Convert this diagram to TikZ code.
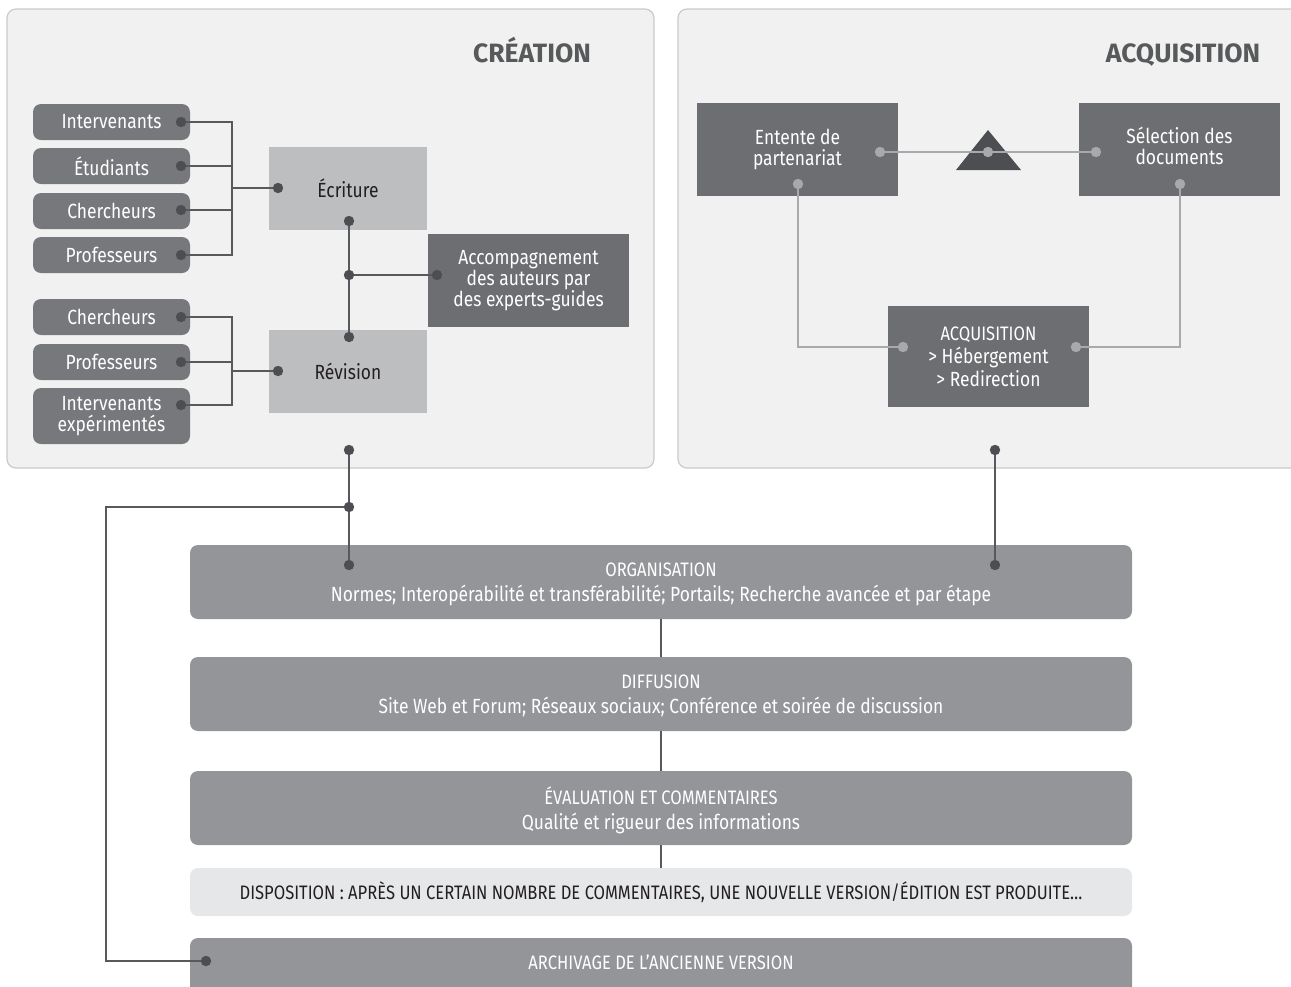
\documentclass[tikz,border=0pt]{standalone}
\usepackage{fontspec}
\setmainfont{Fira Sans}[FakeStretch=0.85]
\newfontfamily\titlefont{Fira Sans}
\newcommand\capsline[1]{{\fontsize{19.5}{23}\selectfont #1}}
\definecolor{panelfill}{HTML}{F0F1F0}
\definecolor{panelline}{HTML}{C9CACB}
\definecolor{pillc}{HTML}{77787B}
\definecolor{lightbox}{HTML}{BCBEC0}
\definecolor{darkbox}{HTML}{6D6E71}
\definecolor{barc}{HTML}{939598}
\definecolor{dispoc}{HTML}{E6E7E8}
\definecolor{dlinec}{HTML}{58595B}
\definecolor{ddotc}{HTML}{4D4E52}
\definecolor{llinec}{HTML}{A7A9AC}
\definecolor{titlec}{HTML}{58595B}
\definecolor{textdark}{HTML}{231F20}
\tikzset{
  panel/.style={fill=panelfill, draw=panelline, line width=1.2pt, rounded corners=9pt},
  pill/.style={fill=pillc, rounded corners=8pt, minimum width=157pt, minimum height=36pt, text=white, font=\fontsize{20.5}{21}\selectfont, align=center, inner sep=0pt},
  lbox/.style={fill=lightbox, minimum width=158pt, minimum height=83pt, text=textdark, font=\fontsize{20.5}{21}\selectfont, inner sep=0pt},
  dbox/.style={fill=darkbox, minimum width=201pt, minimum height=93pt, text=white, font=\fontsize{20.5}{21}\selectfont, align=center, inner sep=0pt},
  bar/.style={fill=barc, rounded corners=8pt, minimum width=942pt, minimum height=74pt, text=white, font=\fontsize{20.5}{25}\selectfont, align=center, inner sep=0pt},
  bartext/.style={text=white, font=\fontsize{20.5}{25}\selectfont, align=center, inner sep=0pt},
  title/.style={text=titlec, font=\titlefont\bfseries\fontsize{26.5}{28}\selectfont, anchor=base},
  dline/.style={draw=dlinec, line width=2.4pt},
  lline/.style={draw=llinec, line width=2.4pt},
}
\begin{document}
\begin{tikzpicture}[x=1pt,y=-1pt]
\useasboundingbox (0,0) rectangle (1291,986);
% panels
\draw[panel] (7,9) rectangle (654,468);
\draw[panel] (678,9) rectangle (1310,468);
\node[title] (tc) at (532,62) {CRÉATION};
\node[title] (ta) at (1183,62) {ACQUISITION};

% ---------- CREATION ----------
\node[pill] (p1) at (111.5,122) {Intervenants};
\node[pill] (p2) at (111.5,166) {Étudiants};
\node[pill] (p3) at (111.5,211) {Chercheurs};
\node[pill] (p4) at (111.5,255) {Professeurs};
\node[pill] (q1) at (111.5,317) {Chercheurs};
\node[pill] (q2) at (111.5,362) {Professeurs};
\node[pill, minimum height=56pt] (q3) at (111.5,416) {Intervenants\\[0pt]expérimentés};

\node[lbox] (ecr) at (348,188.5) {Écriture};
\node[lbox] (rev) at (348,371) {Révision};
\node[dbox] (acc) at (528.5,280.5) {Accompagnement\\des auteurs par\\des experts-guides};

\coordinate (p1d) at (181,122);
\coordinate (p2d) at (181,166);
\coordinate (p3d) at (181,210);
\coordinate (p4d) at (181,255);
\coordinate (q1d) at (181,317);
\coordinate (q2d) at (181,362);
\coordinate (q3d) at (181,405);
\coordinate (bus1) at (232,188);
\coordinate (bus2) at (232,371);
\coordinate (ecrL) at (278,188);
\coordinate (ecrB) at (349,221);
\coordinate (revL) at (278,371);
\coordinate (revT) at (349,337);
\coordinate (jA) at (349,275);
\coordinate (accL) at (437,275);
\coordinate (cB) at (349,450);
\coordinate (jC) at (349,507);
\coordinate (orgL) at (349,565);
\coordinate (loop) at (106,961);
\coordinate (arcL) at (206,961);

\foreach \p in {p1d,p2d,p3d,p4d} \draw[dline] (\p) -| (bus1);
\draw[dline] (bus1) -- (ecrL);
\foreach \p in {q1d,q2d,q3d} \draw[dline] (\p) -| (bus2);
\draw[dline] (bus2) -- (revL);
\draw[dline] (ecrB) -- (revT);
\draw[dline] (jA) -- (accL);

% ---------- ACQUISITION ----------
\node[dbox] (ent) at (797.5,149.5) {Entente de\\partenariat};
\node[dbox, text depth=8pt] (sel) at (1179.5,149.5) {Sélection des\\documents};
\node[dbox, minimum height=101pt, font=\fontsize{20.5}{23}\selectfont] (acq) at (988.5,356.5) {\capsline{ACQUISITION}\\\textgreater{} Hébergement\\\textgreater{} Redirection};
\fill[ddotc] (988,130) -- (1021,170) -- (956,170) -- cycle;
\coordinate (entR) at (880,152);
\coordinate (entB) at (798,184);
\coordinate (selL) at (1096,152);
\coordinate (selB) at (1180,184);
\coordinate (tri) at (988,152);
\coordinate (acqL) at (903,347);
\coordinate (acqR) at (1076,347);
\coordinate (aB) at (995,450);
\coordinate (orgR) at (995,565);
\draw[lline] (entR) -- (selL);
\draw[lline] (entB) |- (acqL);
\draw[lline] (selB) |- (acqR);

% ---------- BOTTOM ----------
\node[bar] (org) at (661,582) {};
\node[bartext] (orgt) at (661,584) {\capsline{ORGANISATION}\\Normes; Interopérabilité et transférabilité; Portails; Recherche avancée et par étape};
\node[bar] (dif) at (661,694) {};
\node[bartext] (dift) at (661,696) {\capsline{DIFFUSION}\\Site Web et Forum; Réseaux sociaux; Conférence et soirée de discussion};
\node[bar] (eva) at (661,808) {};
\node[bartext] (evat) at (661,810) {\capsline{ÉVALUATION ET COMMENTAIRES}\\Qualité et rigueur des informations};
\node[bar, fill=dispoc, text=textdark, minimum height=48pt, font=\fontsize{19.5}{25}\selectfont] (dis) at (661,892) {DISPOSITION : APRÈS UN CERTAIN NOMBRE DE COMMENTAIRES, UNE NOUVELLE VERSION/ÉDITION EST PRODUITE\ldots};
\node[bar, minimum height=64pt] (arc) at (661,970) {};
\node[bartext, font=\fontsize{19.5}{25}\selectfont] (arct) at (661,962) {ARCHIVAGE DE L'ANCIENNE VERSION};

\draw[dline, line width=2pt] (org.south) -- (dif.north);
\draw[dline, line width=2pt] (dif.south) -- (eva.north);
\draw[dline, line width=2pt] (eva.south) -- (dis.north);

\draw[dline] (cB) -- (orgL);
\draw[dline] (jC) -| (loop) -- (arcL);
\draw[dline] (aB) -- (orgR);

% dots
\foreach \c in {p1d,p2d,p3d,p4d,q1d,q2d,q3d,ecrL,ecrB,revL,revT,jA,accL,cB,jC,orgL,arcL,aB,orgR}
  \fill[ddotc] (\c) circle (5.2pt);
\foreach \c in {entR,entB,selL,selB,tri,acqL,acqR}
  \fill[llinec] (\c) circle (5.2pt);
\end{tikzpicture}
\end{document}
